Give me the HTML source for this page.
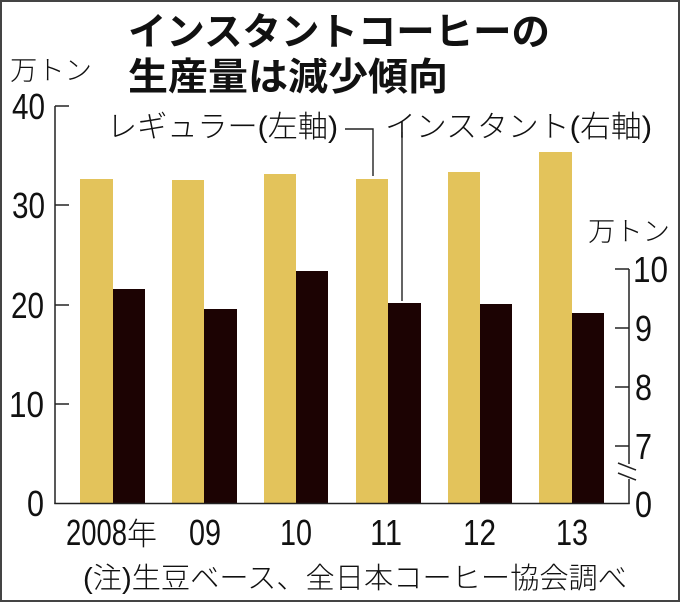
<!DOCTYPE html>
<html><head><meta charset="utf-8"><style>
html,body{margin:0;padding:0;background:#fff;}
svg{display:block;}
.j{font-family:"Liberation Sans","Noto Sans CJK JP",sans-serif;fill:#111;font-weight:300;}
.t{font-family:"Liberation Sans","Noto Sans CJK JP",sans-serif;fill:#111;font-weight:bold;}
.d{font-family:"Liberation Sans",sans-serif;fill:#111;font-size:36px;}
</style></head><body>
<svg width="680" height="602" viewBox="0 0 680 602" xmlns="http://www.w3.org/2000/svg">
<rect x="0" y="0" width="680" height="602" fill="#fff"/>
<rect x="1" y="1" width="678" height="600" fill="none" stroke="#444" stroke-width="2"/>

<!-- title -->
<text class="t" x="128" y="45" font-size="38" textLength="422" lengthAdjust="spacingAndGlyphs">インスタントコーヒーの</text>
<text class="t" x="128" y="90" font-size="38" textLength="320" lengthAdjust="spacingAndGlyphs">生産量は減少傾向</text>

<!-- unit labels -->
<text class="j" x="10" y="80" font-size="27" textLength="82" lengthAdjust="spacingAndGlyphs">万トン</text>
<text class="j" x="588" y="241" font-size="27" textLength="82" lengthAdjust="spacingAndGlyphs">万トン</text>

<!-- legend -->
<text class="j" x="107" y="137" font-size="30" textLength="231" lengthAdjust="spacingAndGlyphs">レギュラー(左軸)</text>
<text class="j" x="385" y="137" font-size="30" textLength="267" lengthAdjust="spacingAndGlyphs">インスタント(右軸)</text>
<polyline points="345,129 373,129 373,176" fill="none" stroke="#222" stroke-width="1.4"/>
<line x1="402" y1="132" x2="402" y2="301" stroke="#222" stroke-width="1.4"/>

<!-- bars -->
<g fill="#E3C35B">
<rect x="80" y="179" width="33" height="325"/>
<rect x="172" y="180" width="32" height="324"/>
<rect x="264" y="174" width="32" height="330"/>
<rect x="356" y="179" width="32" height="325"/>
<rect x="448" y="172" width="32" height="332"/>
<rect x="539" y="152" width="33" height="352"/>
</g>
<g fill="#1C0303">
<rect x="113" y="289" width="32" height="215"/>
<rect x="204" y="309" width="33" height="195"/>
<rect x="296" y="271" width="32" height="233"/>
<rect x="388" y="303" width="33" height="201"/>
<rect x="480" y="304" width="32" height="200"/>
<rect x="572" y="313" width="32" height="191"/>
</g>

<!-- axes -->
<g stroke="#222" stroke-width="1.5" fill="none">
<line x1="55" y1="106" x2="55" y2="504"/>
<line x1="54.3" y1="503.5" x2="629.7" y2="503.5"/>
<line x1="55" y1="106" x2="69" y2="106"/>
<line x1="55" y1="205" x2="69" y2="205"/>
<line x1="55" y1="305" x2="69" y2="305"/>
<line x1="55" y1="404" x2="69" y2="404"/>
<line x1="629" y1="269" x2="629" y2="464"/>
<line x1="629" y1="479" x2="629" y2="504"/>
<line x1="615" y1="269" x2="629" y2="269"/>
<line x1="615" y1="328" x2="629" y2="328"/>
<line x1="615" y1="387" x2="629" y2="387"/>
<line x1="615" y1="446" x2="629" y2="446"/>
<line x1="618" y1="463" x2="636" y2="470"/>
<line x1="618" y1="473" x2="636" y2="480"/>
</g>

<!-- left tick labels -->
<text class="d" x="12" y="119" textLength="33" lengthAdjust="spacingAndGlyphs">40</text>
<text class="d" x="12" y="218" textLength="33" lengthAdjust="spacingAndGlyphs">30</text>
<text class="d" x="11" y="318" textLength="33" lengthAdjust="spacingAndGlyphs">20</text>
<text class="d" x="9" y="417" textLength="35" lengthAdjust="spacingAndGlyphs">10</text>
<text class="d" x="27" y="516" textLength="17" lengthAdjust="spacingAndGlyphs">0</text>

<!-- right tick labels -->
<text class="d" x="633" y="282" textLength="35" lengthAdjust="spacingAndGlyphs">10</text>
<text class="d" x="635" y="341" textLength="17" lengthAdjust="spacingAndGlyphs">9</text>
<text class="d" x="635" y="400" textLength="17" lengthAdjust="spacingAndGlyphs">8</text>
<text class="d" x="635" y="459" textLength="17" lengthAdjust="spacingAndGlyphs">7</text>
<text class="d" x="635" y="517" textLength="17" lengthAdjust="spacingAndGlyphs">0</text>

<!-- x labels -->
<text class="d" x="66" y="545" textLength="61" lengthAdjust="spacingAndGlyphs">2008</text>
<text class="j" x="127" y="545" font-size="31" textLength="30" lengthAdjust="spacingAndGlyphs">年</text>
<text class="d" x="189" y="545" textLength="32" lengthAdjust="spacingAndGlyphs">09</text>
<text class="d" x="280" y="545" textLength="32" lengthAdjust="spacingAndGlyphs">10</text>
<text class="d" x="370" y="545" textLength="32" lengthAdjust="spacingAndGlyphs">11</text>
<text class="d" x="463" y="545" textLength="33" lengthAdjust="spacingAndGlyphs">12</text>
<text class="d" x="556" y="545" textLength="32" lengthAdjust="spacingAndGlyphs">13</text>

<!-- note -->
<text class="j" x="83" y="588" font-size="29" textLength="544" lengthAdjust="spacingAndGlyphs">(注)生豆ベース、全日本コーヒー協会調べ</text>
</svg>
</body></html>
